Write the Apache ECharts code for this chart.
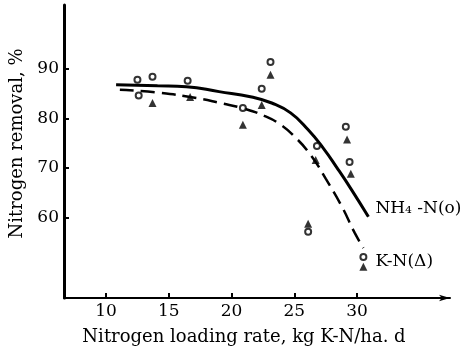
<!DOCTYPE html>
<html><head><meta charset="utf-8">
<script src="https://cdn.jsdelivr.net/npm/echarts@6/dist/echarts.min.js"></script>
<style>html,body{margin:0;padding:0;background:#fff}#c{width:464px;height:356px}</style>
</head><body><div id="c"></div>
<script>
const xTicks = [10, 15, 20, 25, 30];
const yTicks = [60, 70, 80, 90];
const xTitle = 'Nitrogen loading rate, kg K-N/ha. d';
const yTitle = 'Nitrogen removal, %';
const nh4Label = 'NH\u2084 -N(o)';
const knLabel = 'K-N(\u0394)';
// NH4-N measured points (circles)
const nh4Points = [[12.5,87.8],[13.7,88.4],[12.6,84.6],[16.5,87.6],[20.9,82.1],[22.4,86.0],[23.1,91.4],[26.8,74.4],[29.1,78.3],[29.4,71.2],[26.1,57.1],[30.5,52.0]];
// K-N measured points (triangles)
const knPoints = [[13.7,83.1],[16.7,84.3],[20.9,78.7],[22.4,82.7],[23.1,88.8],[26.7,71.6],[29.2,75.7],[29.5,68.8],[26.1,58.7],[30.5,50.0]];
// fitted curves
const nh4Curve = [[10.8,86.8],[14.1,86.6],[16.4,86.4],[19.0,85.4],[21.6,84.3],[23.2,83.1],[24.7,81.1],[26.1,77.7],[27.3,74.0],[28.4,70.0],[29.6,65.4],[30.9,60.1]];
const knCurve = [[11.1,85.8],[14.1,85.2],[17.2,84.1],[19.1,83.1],[21.1,81.9],[22.6,80.5],[23.8,78.9],[24.9,76.6],[26.3,72.6],[27.5,67.8],[28.8,62.1],[29.8,56.9],[30.5,53.8]];

const FONT = 'DejaVu Serif';
const chart = echarts.init(document.getElementById('c'), null, {renderer: 'canvas'});
chart.setOption({
  animation: false,
  backgroundColor: '#fff',
  grid: {left: 55, right: 14, top: 5, bottom: 58},
  xAxis: {
    type: 'value', min: 6.65, max: 37.4,
    name: xTitle, nameLocation: 'middle', nameGap: 30,
    nameTextStyle: {fontFamily: FONT, fontSize: 18, color: '#000', padding: [0, 26, 0, 0]},
    axisLine: {show: true, lineStyle: {color: '#000', width: 2}, symbol: ['none', 'arrow'], symbolSize: [5, 11]},
    axisTick: {show: true, inside: true, length: 5, lineStyle: {color: '#000', width: 2}, customValues: xTicks},
    axisLabel: {customValues: xTicks, fontFamily: FONT, fontSize: 17, color: '#000', margin: 5},
    splitLine: {show: false}
  },
  yAxis: {
    type: 'value', min: 43.7, max: 102.9,
    name: yTitle, nameLocation: 'middle', nameGap: 38, nameRotate: 90,
    nameTextStyle: {fontFamily: FONT, fontSize: 18, color: '#000', padding: [0, 0, 0, 16]},
    axisLine: {show: true, lineStyle: {color: '#000', width: 3}},
    axisTick: {show: true, inside: true, length: 5, lineStyle: {color: '#000', width: 2}, customValues: yTicks},
    axisLabel: {customValues: yTicks, fontFamily: FONT, fontSize: 17, color: '#000', margin: 5},
    splitLine: {show: false}
  },
  series: [
    {type: 'line', data: nh4Curve, smooth: 0.5, showSymbol: false, symbol: 'none',
     lineStyle: {color: '#000', width: 3},
     endLabel: {show: true, formatter: nh4Label, fontFamily: FONT, fontSize: 17, color: '#000', distance: 7, offset: [0, -8]}},
    {type: 'line', data: knCurve, smooth: 0.5, showSymbol: false, symbol: 'none',
     lineStyle: {color: '#000', width: 2.5, type: [14, 7]},
     endLabel: {show: true, formatter: knLabel, fontFamily: FONT, fontSize: 17, color: '#000', distance: 12, offset: [0, 14]}},
    {type: 'scatter', data: nh4Points, symbol: 'circle', symbolSize: 6,
     itemStyle: {color: '#fff', borderColor: '#000', borderWidth: 2}, z: 5},
    {type: 'scatter', data: knPoints, symbol: 'triangle', symbolSize: 8,
     itemStyle: {color: '#000'}, z: 5}
  ]
});
</script>
</body></html>
